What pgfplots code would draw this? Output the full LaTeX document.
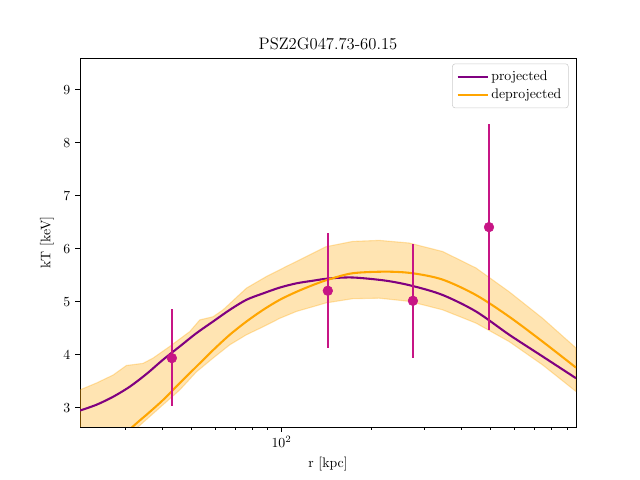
\documentclass[border=0pt]{standalone}
\usepackage{pgfplots}
\pgfplotsset{compat=1.18}
\definecolor{mvr}{HTML}{C71585}
\definecolor{mpurple}{HTML}{800080}
\definecolor{morange}{HTML}{FFA500}
\begin{document}
\begin{tikzpicture}
\path[use as bounding box] (-57.6bp,-38.16bp) rectangle (403.2bp,307.44bp);
\begin{axis}[
  at={(0,0)}, anchor=south west,
  scale only axis, width=357.12bp, height=265.68bp,
  xmode=log, xmin=21.2, xmax=964.6, ymin=2.64, ymax=9.6,
  xtick={100}, xticklabels={$10^2$},
  minor xtick={30,40,50,60,70,80,90,200,300,400,500,600,700,800,900},
  ytick={3,4,5,6,7,8,9},
  tick align=outside, xtick pos=bottom, ytick pos=left,
  major tick length=3.5pt, minor tick length=2pt,
  every tick/.style={black, line width=0.6pt},
  axis line style={line width=0.6pt},
  title={PSZ2G047.73-60.15},
  title style={font=\large, yshift=-4pt},
  xlabel={r [kpc]}, ylabel={kT [keV]},
  legend style={at={(0.985,0.985)}, anchor=north east, draw=black!20, rounded corners=2pt, font=\normalsize, row sep=1pt, inner xsep=3pt, inner ysep=3pt},
  legend cell align=left,
  legend image code/.code={\draw[#1] (0cm,0cm) -- (0.76cm,0cm);},
]
% band
\addplot[fill=morange, fill opacity=0.3, draw=morange, draw opacity=0.3, line width=0.8pt, forget plot] coordinates {
(21.2,3.34) (24.07,3.47) (27.35,3.62) (30.31,3.80) (34.44,3.84) (37.21,3.94) (42.30,4.16) (49.35,4.44) (53.30,4.66) (59.05,4.72) (63.78,4.85) (76.36,5.26) (89.09,5.48) (103.9,5.67) (127.6,5.92) (140.7,6.04) (172.8,6.14) (212.1,6.16) (267.3,6.11) (345.6,5.95) (446.5,5.64) (577.0,5.19) (746.3,4.69) (964.6,4.13)
(964.6,3.31) (746.3,3.81) (577.0,4.25) (446.5,4.60) (345.6,4.85) (267.3,5.01) (212.1,5.07) (172.8,5.06) (140.7,4.98) (127.6,4.91) (112.2,4.82) (98.69,4.69) (86.79,4.53) (76.36,4.38) (67.15,4.19) (59.05,3.94) (51.95,3.68) (45.70,3.34) (40.18,3.06) (33.14,2.64) (21.2,1.67)
} -- cycle;
\addplot[mpurple, line width=1.5pt, smooth] coordinates {
(21.2,2.95) (24.07,3.06) (27.35,3.21) (31.09,3.40) (35.36,3.64) (40.18,3.91) (45.70,4.16) (51.95,4.41) (59.05,4.63) (67.15,4.85) (76.36,5.04) (86.79,5.16) (98.69,5.27) (112.2,5.35) (127.6,5.40) (143.2,5.44) (172.8,5.46) (223.3,5.40) (274.3,5.30) (345.6,5.13) (446.5,4.82) (577.0,4.38) (746.3,3.97) (964.6,3.56)
};
\addlegendentry{projected}
\addplot[morange, line width=1.5pt, smooth] coordinates {
(21.2,1.76) (32.31,2.68) (35.36,2.87) (40.18,3.15) (45.70,3.47) (51.95,3.78) (59.05,4.09) (67.15,4.38) (76.36,4.63) (86.79,4.85) (98.69,5.04) (112.2,5.19) (127.6,5.32) (143.2,5.42) (172.8,5.54) (223.3,5.57) (274.3,5.54) (345.6,5.42) (446.5,5.13) (577.0,4.72) (746.3,4.25) (964.6,3.76)
};
\addlegendentry{deprojected}
\addplot[mvr, only marks, mark=*, mark size=3.5pt, mark options={draw=mvr, fill=mvr},
  error bars/.cd, y dir=both, y explicit, error mark=none,
  error bar style={mvr, line width=1.4pt}] coordinates {
(43.0,3.94) += (0,0.92) -= (0,0.90)
(142.8,5.21) += (0,1.09) -= (0,1.08)
(274.9,5.02) += (0,1.07) -= (0,1.08)
(493.7,6.41) += (0,1.95) -= (0,1.94)
};
\end{axis}
\end{tikzpicture}
\end{document}
